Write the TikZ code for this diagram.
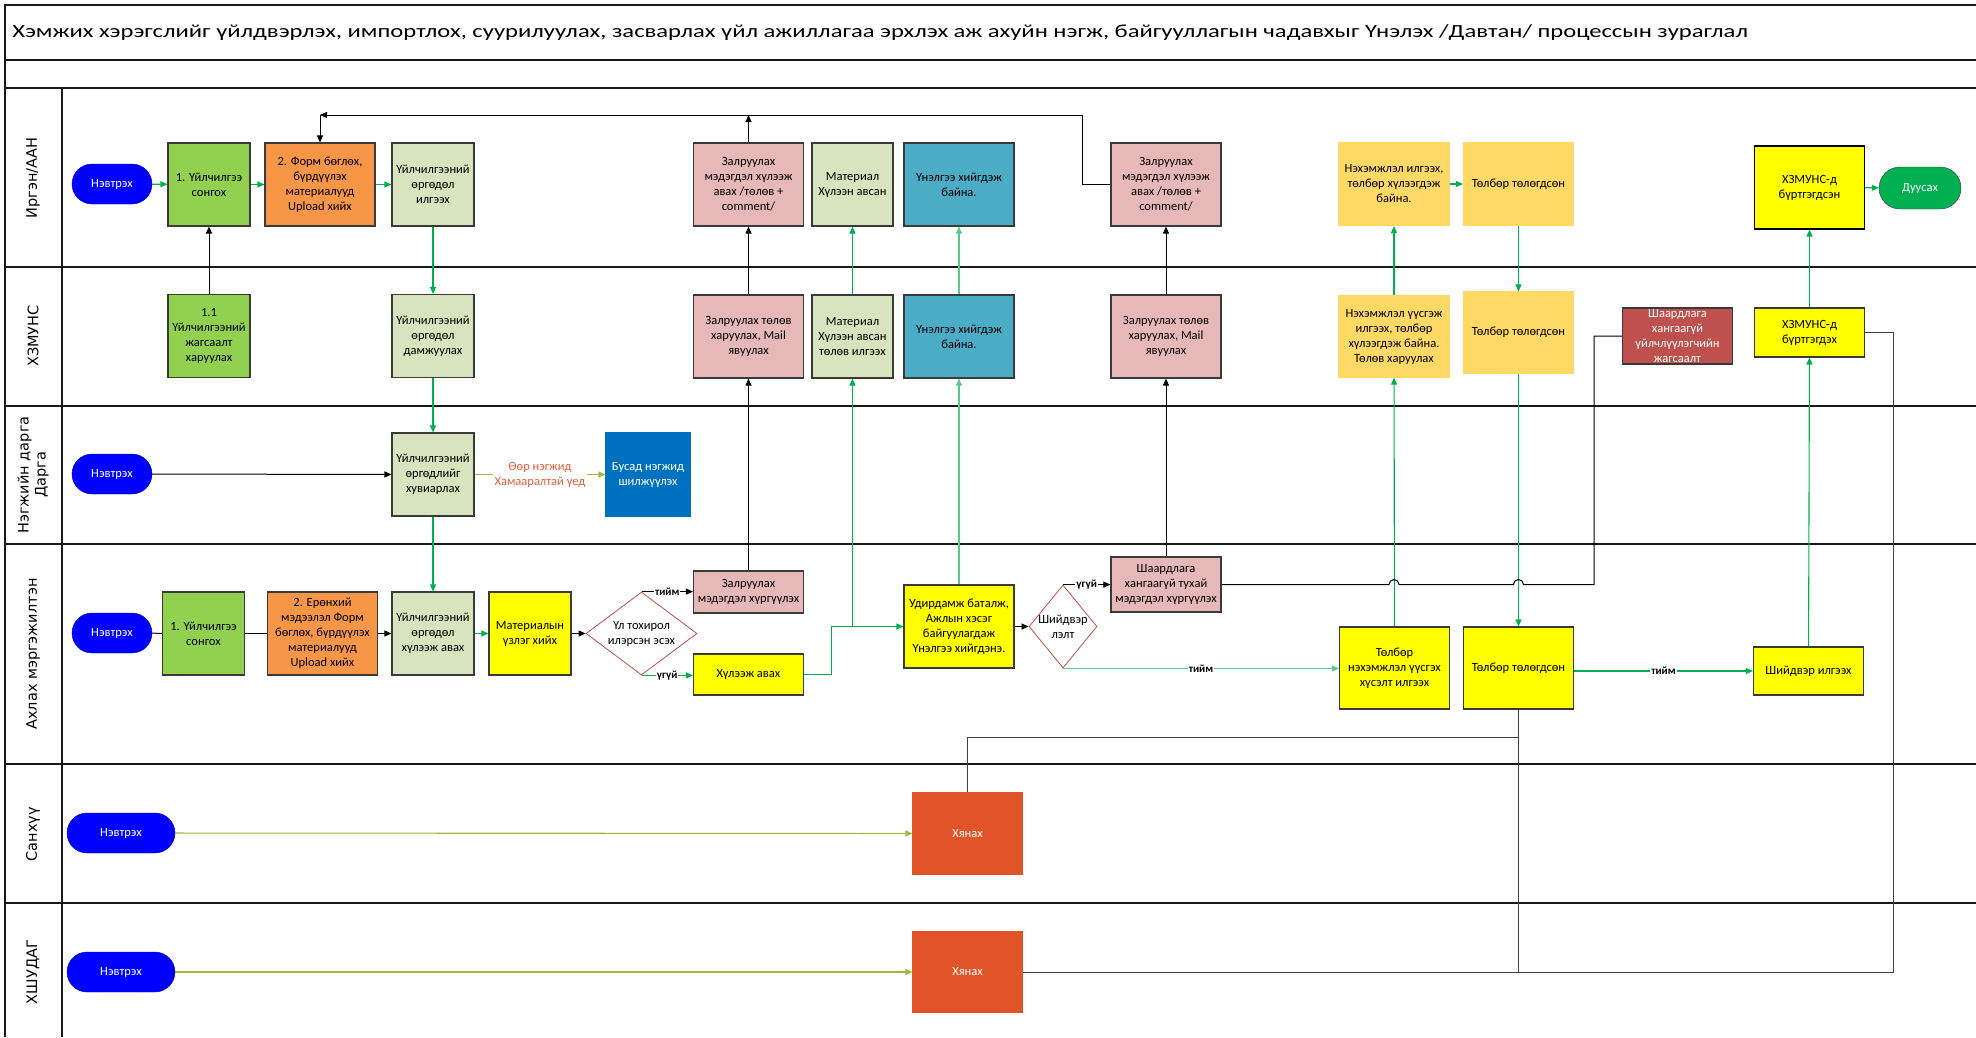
\documentclass[tikz,border=0pt]{standalone}
\usepackage{fontspec}
\setmainfont{Carlito}
\newfontfamily\lanefont{DejaVu Sans}
\usetikzlibrary{arrows.meta,shapes.geometric}
\definecolor{pillblue}{HTML}{0000FF}
\definecolor{grn}{HTML}{92D050}
\definecolor{orng}{HTML}{F79646}
\definecolor{lgrn}{HTML}{D7E4BD}
\definecolor{pink}{HTML}{E6B9B8}
\definecolor{teal}{HTML}{4BACC6}
\definecolor{sand}{HTML}{FFD966}
\definecolor{yel}{HTML}{FFFF00}
\definecolor{endgrn}{HTML}{00B050}
\definecolor{dred}{HTML}{C0504D}
\definecolor{dblue}{HTML}{0070C0}
\definecolor{rust}{HTML}{E15427}
\definecolor{flowgrn}{HTML}{00B050}
\definecolor{palegrn}{HTML}{55C98E}
\definecolor{olive}{HTML}{A3B83C}
\definecolor{lblorange}{HTML}{E4603A}
\definecolor{edge}{HTML}{3A3A3A}

\begin{document}
\begin{tikzpicture}[x=1pt,y=-1pt,
  frame/.style={line width=1.4pt,draw=black!90},
  lane/.style={rotate=90,font=\lanefont\fontsize{14.5}{17}\selectfont,align=center},
  box/.style={draw=edge,line width=1.1pt,align=center,inner sep=0pt,font=\fontsize{12.5}{15}\selectfont},
  nbox/.style={box,minimum width=82pt,minimum height=83pt},
  wbox/.style={box,minimum width=110pt,minimum height=83pt},
  pill/.style={fill=pillblue,draw=pillblue!70!black,text=white,rounded corners=20pt,minimum width=80pt,minimum height=40pt,font=\fontsize{12.5}{15}\selectfont},
  dia/.style={diamond,draw=dred,line width=.8pt,fill=white,inner sep=0pt},
  barrow/.style={line width=1pt,-{Triangle[length=7pt,width=6pt]}},
  bline/.style={line width=1pt},
  garrow/.style={line width=1.1pt,draw=flowgrn,-{Triangle[length=7pt,width=6pt]}},
  parrow/.style={line width=1.1pt,draw=palegrn,-{Triangle[length=7pt,width=6pt]}},
  oarrow/.style={line width=1.1pt,draw=olive,-{Triangle[length=7pt,width=6pt]}},
  lbl/.style={fill=white,inner sep=1pt,font=\bfseries\fontsize{11}{13}\selectfont}]
\useasboundingbox (0,0) rectangle (1976,1037);

% frame and lanes
\draw[frame] (1976,5) -- (5,5) -- (5,1037);
\foreach \y in {60,88,267,406,544,764,903}
  \draw[frame] (5,\y) -- (1976,\y);
\draw[frame] (62,88) -- (62,1037);
\node[anchor=west,xscale=1.33,inner sep=0pt,font=\fontsize{18.5}{22}\selectfont] (title) at (12,33) {Хэмжих хэрэгслийг үйлдвэрлэх, импортлох, суурилуулах, засварлах үйл ажиллагаа эрхлэх аж ахуйн нэгж, байгууллагын чадавхыг Үнэлэх /Давтан/ процессын зураглал};
\node[lane] (l1) at (33,178) {Иргэн/ААН};
\node[lane] (l2) at (33,336) {ХЗМУНС};
\node[lane] (l3) at (33,475) {Нэгжийн дарга\\Дарга};
\node[lane] (l4) at (33,654) {Ахлах мэргэжилтэн};
\node[lane] (l5) at (33,834) {Санхүү};
\node[lane] (l6) at (33,972) {ХШУДАГ};

% Иргэн/ААН
\node[pill] (p1) at (112,184) {Нэвтрэх};
\node[nbox,fill=grn] (s1) at (209,184.5) {1. Үйлчилгээ\\сонгох};
\node[wbox,fill=orng] (f1) at (320,184.5) {2. Форм бөглөх,\\бүрдүүлэх\\материалууд\\Upload хийх};
\node[nbox,fill=lgrn] (i1) at (433,184.5) {Үйлчилгээний\\өргөдөл\\илгээх};
\node[wbox,fill=pink] (zm1) at (748.5,184.5) {Залруулах\\мэдэгдэл хүлээж\\авах /төлөв +\\comment/};
\node[nbox,fill=lgrn,minimum width=81pt] (mh1) at (852.5,184.5) {Материал\\Хүлээн авсан};
\node[wbox,fill=teal] (uh1) at (959,184.5) {Үнэлгээ хийгдэж\\байна.};
\node[wbox,fill=pink] (zm2) at (1166,184.5) {Залруулах\\мэдэгдэл хүлээж\\авах /төлөв +\\comment/};
\node[wbox,fill=sand,draw=sand] (nh1) at (1394,184) {Нэхэмжлэл илгээх,\\төлбөр хүлээгдэж\\байна.};
\node[wbox,fill=sand,draw=sand] (tt1) at (1518.5,184) {Төлбөр төлөгдсөн};
\node[wbox,fill=yel,draw=black] (hs1) at (1809.5,187.5) {ХЗМУНС-д\\бүртгэгдсэн};
\node[pill,fill=endgrn,draw=edge,rounded corners=21pt,minimum width=82pt,minimum height=42pt] (end) at (1920,188) {Дуусах};

% ХЗМУНС
\node[nbox,fill=grn] (s11) at (209,336) {1.1\\Үйлчилгээний\\жагсаалт\\харуулах};
\node[nbox,fill=lgrn] (d2) at (433,336) {Үйлчилгээний\\өргөдөл\\дамжуулах};
\node[wbox,fill=pink] (zt2) at (748.5,336.5) {Залруулах төлөв\\харуулах, Mail\\явуулах};
\node[nbox,fill=lgrn,minimum width=81pt] (mt2) at (852.5,336.5) {Материал\\Хүлээн авсан\\төлөв илгээх};
\node[wbox,fill=teal] (ut2) at (959,336.5) {Үнэлгээ хийгдэж\\байна.};
\node[wbox,fill=pink] (zt2b) at (1166,336.5) {Залруулах төлөв\\харуулах, Mail\\явуулах};
\node[wbox,fill=sand,draw=sand,minimum height=81pt] (nu2) at (1394,336.5) {Нэхэмжлэл үүсгэж\\илгээх, төлбөр\\хүлээгдэж байна.\\Төлөв харуулах};
\node[wbox,fill=sand,draw=sand,minimum height=81pt] (tt2) at (1518.5,332.5) {Төлбөр төлөгдсөн};
\node[wbox,fill=dred,text=white,minimum height=56pt] (sl2) at (1677.5,336) {Шаардлага\\хангаагүй\\үйлчлүүлэгчийн\\жагсаалт};
\node[wbox,fill=yel,minimum height=49pt] (hb2) at (1809.5,332.5) {ХЗМУНС-д\\бүртгэгдэх};

% Нэгжийн дарга
\node[pill] (p3) at (112,474) {Нэвтрэх};
\node[nbox,fill=lgrn] (h3) at (433,474.5) {Үйлчилгээний\\өргөдлийг\\хувиарлах};
\node[nbox,fill=dblue,draw=dblue,text=white,minimum width=84pt] (b3) at (648,474.5) {Бусад нэгжид\\шилжүүлэх};

% Ахлах мэргэжилтэн
\node[pill] (p4) at (112,633) {Нэвтрэх};
\node[nbox,fill=grn] (s4) at (203.5,633.5) {1. Үйлчилгээ\\сонгох};
\node[wbox,fill=orng] (f4) at (322.5,633.5) {2. Ерөнхий\\мэдээлэл Форм\\бөглөх, бүрдүүлэх\\материалууд\\Upload хийх};
\node[nbox,fill=lgrn] (x4) at (433,633.5) {Үйлчилгээний\\өргөдөл\\хүлээж авах};
\node[nbox,fill=yel] (m4) at (530,633.5) {Материалын\\үзлэг хийх};
\node[dia,minimum width=111pt,minimum height=83pt] (t4) at (641.5,633.5) {};
\node[box,draw=none] (t4t) at (t4) {Үл тохирол\\илэрсэн эсэх};
\node[wbox,fill=pink,minimum height=42pt] (z4) at (748.5,592) {Залруулах\\мэдэгдэл хүргүүлэх};
\node[wbox,fill=yel,minimum height=41pt] (k4) at (748.5,674.5) {Хүлээж авах};
\node[wbox,fill=yel] (u4) at (959,626.5) {Удирдамж баталж,\\Ажлын хэсэг\\байгуулагдаж\\Үнэлгээ хийгдэнэ.};
\node[dia,minimum width=68pt,minimum height=83pt] (sd4) at (1063,626.5) {};
\node[box,draw=none] (sd4t) at (sd4) {Шийдвэр\\лэлт};
\node[wbox,fill=pink,minimum height=55pt] (sh4) at (1166,584.5) {Шаардлага\\хангаагүй тухай\\мэдэгдэл хүргүүлэх};
\node[wbox,fill=yel,minimum height=82pt] (tn4) at (1394.5,668) {Төлбөр\\нэхэмжлэл үүсгэх\\хүсэлт илгээх};
\node[wbox,fill=yel,minimum height=82pt] (tt4) at (1518.5,668) {Төлбөр төлөгдсөн};
\node[wbox,fill=yel,minimum height=48pt] (sw4) at (1808.5,671) {Шийдвэр илгээх};

% Санхүү, ХШУДАГ
\node[pill,minimum width=108pt] (p5) at (121,833) {Нэвтрэх};
\node[nbox,fill=rust,draw=rust,text=white,minimum width=109pt,minimum height=81pt] (hy5) at (967.5,833.5) {Хянах};
\node[pill,minimum width=108pt] (p6) at (121,972) {Нэвтрэх};
\node[nbox,fill=rust,draw=rust,text=white,minimum width=109pt,minimum height=81pt] (hy6) at (967.5,972) {Хянах};

% connectors
\coordinate (top) at (0,115);
\draw[garrow] (p1) -- (s1);
\draw[garrow] (s1) -- (f1);
\draw[garrow] (f1) -- (i1);
\draw[barrow] (s11) -- (s1);
\draw[garrow] (i1) -- (d2);
\draw[garrow] (d2) -- (h3);
\draw[barrow] (p3) -- (h3);
\draw[garrow] (h3) -- (x4);
\draw[oarrow] (h3) -- node[fill=white,inner sep=2pt,align=center,text=lblorange,font=\fontsize{12.5}{15}\selectfont] (other) {Өөр нэгжид\\Хамааралтай үед} (b3);
\draw[bline] (p4) -- (s4);
\draw[bline] (s4) -- (f4);
\draw[barrow] (f4) -- (x4);
\draw[garrow] (x4) -- (m4);
\draw[barrow] (m4) -- (t4);
\draw[barrow] (t4.north) -- node[lbl] {тийм} (t4.north -| z4.west);
\draw[garrow] (t4.south) -- node[lbl] {үгүй} (t4.south -| k4.west);
\draw[barrow] (z4) -- (zt2);
\draw[barrow] (zt2) -- (zm1);
\draw[barrow] (zm1.north) -- (zm1.north |- top);
\draw[barrow] (zm2.west) -- ++(-28,0) |- (f1.north |- top);
\draw[barrow] (f1.north |- top) -- (f1.north);
\draw[garrow] (k4.east) -- ++(27,0) |- (u4.west);
\draw[garrow] (mt2.south |- u4.west) -- (mt2.south);
\draw[garrow] (mt2) -- (mh1);
\draw[parrow] (u4) -- (ut2);
\draw[parrow] (ut2) -- (uh1);
\draw[barrow] (u4) -- (sd4);
\draw[barrow] (sd4.north) -- node[lbl] {үгүй} (sd4.north -| sh4.west);
\draw[barrow] (sh4) -- (zt2b);
\draw[barrow] (zt2b) -- (zm2);
\draw[parrow] (sd4.south) -- node[lbl] {тийм} (sd4.south -| tn4.west);
\draw[garrow] (tn4) -- (nu2);
\draw[garrow] (nu2) -- (nh1);
\draw[garrow] (nh1) -- (tt1);
\draw[garrow] (tt1) -- (tt2);
\draw[garrow] (tt2) -- (tt4);
\draw[garrow] (tt4.east |- sw4.west) -- node[lbl] {тийм} (sw4.west);
\draw[garrow] (sw4) -- (hb2);
\draw[garrow] (hb2) -- (hs1);
\draw[garrow] (hs1) -- (end);
\draw[bline] (sh4.east) -- (1389,584.5) arc[start angle=180,end angle=0,radius=5pt]
  -- (1513.5,584.5) arc[start angle=180,end angle=0,radius=5pt] -- (1594,584.5) |- (sl2.west);
\draw[oarrow] (p5) -- (hy5);
\draw[oarrow] (p6) -- (hy6);
\draw[bline,draw=black!75] (tt4.south) -- (tt4.south |- hy6.east);
\draw[bline,draw=black!75] (tt4.south) -- ++(0,28) -| (hy5.north);
\draw[bline,draw=black!75] (hy6.east) -- (1893,972) |- (hb2.east);
\end{tikzpicture}
\end{document}
